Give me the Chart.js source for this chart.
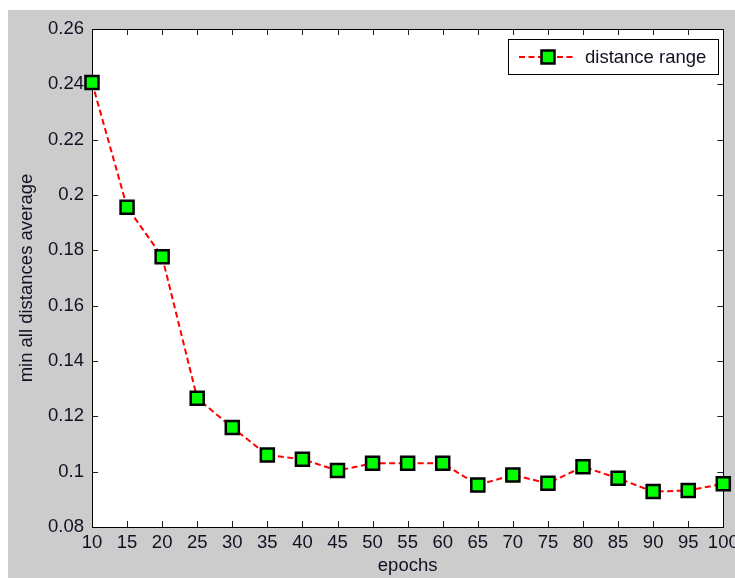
<!DOCTYPE html>
<html>
<head>
<meta charset="utf-8">
<script src="https://cdn.jsdelivr.net/npm/chart.js@4/dist/chart.umd.min.js"></script>
<style>
	html, body { margin: 0; padding: 0; background: #ffffff; }
	#result_chart { display: block; }
</style>
</head>
<body>
<canvas id="result_chart" width="735" height="578"></canvas>
<script>
var epochs = [10, 15, 20, 25, 30, 35, 40, 45, 50, 55, 60, 65, 70, 75, 80, 85, 90, 95, 100];
var distanceRange = [0.2407, 0.1956, 0.1777, 0.1265, 0.1160, 0.1060, 0.1045, 0.1004, 0.1030, 0.1030,
	0.1030, 0.0952, 0.0988, 0.0958, 0.1018, 0.0976, 0.0928, 0.0932, 0.0956];
var yTicks = [0.08, 0.1, 0.12, 0.14, 0.16, 0.18, 0.2, 0.22, 0.24, 0.26];

var FONT = { family: 'Arial, "Liberation Sans", sans-serif', size: 18.5, lineHeight: 1.2 };
var TEXT = '#111122';
var LINE_DASH = [6, 3.5];

// grey figure, white axes box, black frame and inward ticks on every side
var frame = {
	id: 'frame',
	beforeDraw: function (chart) {
		var c = chart.ctx, a = chart.chartArea;
		c.save();
		c.fillStyle = '#ffffff';
		c.fillRect(0, 0, chart.width, chart.height);
		c.fillStyle = '#cccccc';
		c.fillRect(8, 10, chart.width - 8, chart.height - 10);
		c.fillStyle = '#ffffff';
		c.fillRect(a.left, a.top, a.right - a.left, a.bottom - a.top);
		c.restore();
	},
	beforeDatasetsDraw: function (chart) {
		var c = chart.ctx, a = chart.chartArea;
		var x = chart.scales.x, y = chart.scales.y;
		var len = 6;
		c.save();
		c.strokeStyle = '#222222';
		c.lineWidth = 1;
		c.beginPath();
		x.ticks.forEach(function (t) {
			var px = Math.round(x.getPixelForValue(t.value)) + 0.5;
			c.moveTo(px, a.bottom); c.lineTo(px, a.bottom - len);
			c.moveTo(px, a.top); c.lineTo(px, a.top + len);
		});
		y.ticks.forEach(function (t) {
			var py = Math.round(y.getPixelForValue(t.value)) + 0.5;
			c.moveTo(a.left, py); c.lineTo(a.left + len, py);
			c.moveTo(a.right, py); c.lineTo(a.right - len, py);
		});
		c.stroke();
		c.strokeStyle = '#000000';
		c.strokeRect(Math.round(a.left) + 0.5, Math.round(a.top) + 0.5,
			Math.round(a.right - a.left), Math.round(a.bottom - a.top));
		c.restore();
	}
};

// legend box in the top right corner: dashed line sample with the square marker
var legendBox = {
	id: 'legendBox',
	afterDraw: function (chart) {
		var c = chart.ctx, ds = chart.data.datasets[0];
		var bx = 508.5, by = 39.5, bw = 210, bh = 35;
		var cy = by + bh / 2;
		c.save();
		c.fillStyle = '#ffffff';
		c.fillRect(bx, by, bw, bh);
		c.strokeStyle = '#000000';
		c.lineWidth = 1;
		c.strokeRect(bx, by, bw, bh);

		c.strokeStyle = ds.borderColor;
		c.lineWidth = ds.borderWidth;
		c.setLineDash(LINE_DASH);
		c.beginPath();
		c.moveTo(519, cy);
		c.lineTo(576, cy);
		c.stroke();
		c.setLineDash([]);

		var s = 13;
		c.fillStyle = ds.pointBackgroundColor;
		c.fillRect(548 - s / 2, cy - s / 2, s, s);
		c.strokeStyle = ds.pointBorderColor;
		c.lineWidth = ds.pointBorderWidth;
		c.strokeRect(548 - s / 2, cy - s / 2, s, s);

		c.fillStyle = TEXT;
		c.font = FONT.size + 'px ' + FONT.family;
		c.textAlign = 'left';
		c.textBaseline = 'middle';
		c.fillText(ds.label, 585, cy + 1);
		c.restore();
	}
};

var config = {
	type: 'line',
	data: {
		datasets: [{
			label: 'distance range',
			data: epochs.map(function (e, i) { return { x: e, y: distanceRange[i] }; }),
			borderColor: '#ff0000',
			borderWidth: 2,
			borderDash: LINE_DASH,
			tension: 0,
			fill: false,
			clip: false,
			pointStyle: 'rect',
			pointRadius: 9.2,
			pointHoverRadius: 9.2,
			pointBackgroundColor: '#00ff00',
			pointBorderColor: '#000000',
			pointBorderWidth: 2.5
		}]
	},
	options: {
		responsive: false,
		animation: false,
		events: [],
		layout: {
			padding: { left: 0, right: 10, top: 29, bottom: 0 }
		},
		plugins: {
			legend: { display: false },
			tooltip: { enabled: false }
		},
		scales: {
			x: {
				type: 'linear',
				min: 10,
				max: 100,
				grid: { display: false, drawTicks: false },
				border: { display: false },
				ticks: {
					stepSize: 5,
					autoSkip: false,
					maxRotation: 0,
					padding: 5,
					color: TEXT,
					font: FONT
				},
				title: {
					display: true,
					text: 'epochs',
					color: TEXT,
					font: FONT,
					padding: { top: 0, bottom: 1 }
				},
				afterFit: function (s) {
					s.height = 51;
					s.paddingLeft = 0;
					s.paddingRight = 0;
				}
			},
			y: {
				type: 'linear',
				min: 0.08,
				max: 0.26,
				grid: { display: false, drawTicks: false },
				border: { display: false },
				afterBuildTicks: function (s) {
					s.ticks = yTicks.map(function (v) { return { value: v }; });
				},
				ticks: {
					padding: 8,
					color: TEXT,
					font: FONT,
					callback: function (v) { return String(+v.toFixed(2)); }
				},
				title: {
					display: true,
					text: 'min all distances average',
					color: TEXT,
					font: FONT,
					padding: { top: 16, bottom: 0 }
				},
				afterFit: function (s) {
					s.width = 92;
					s.paddingTop = 0;
					s.paddingBottom = 0;
				}
			}
		}
	},
	plugins: [frame, legendBox]
};

var ctx = document.getElementById('result_chart');
var chart = new Chart(ctx, config);
</script>
</body>
</html>
